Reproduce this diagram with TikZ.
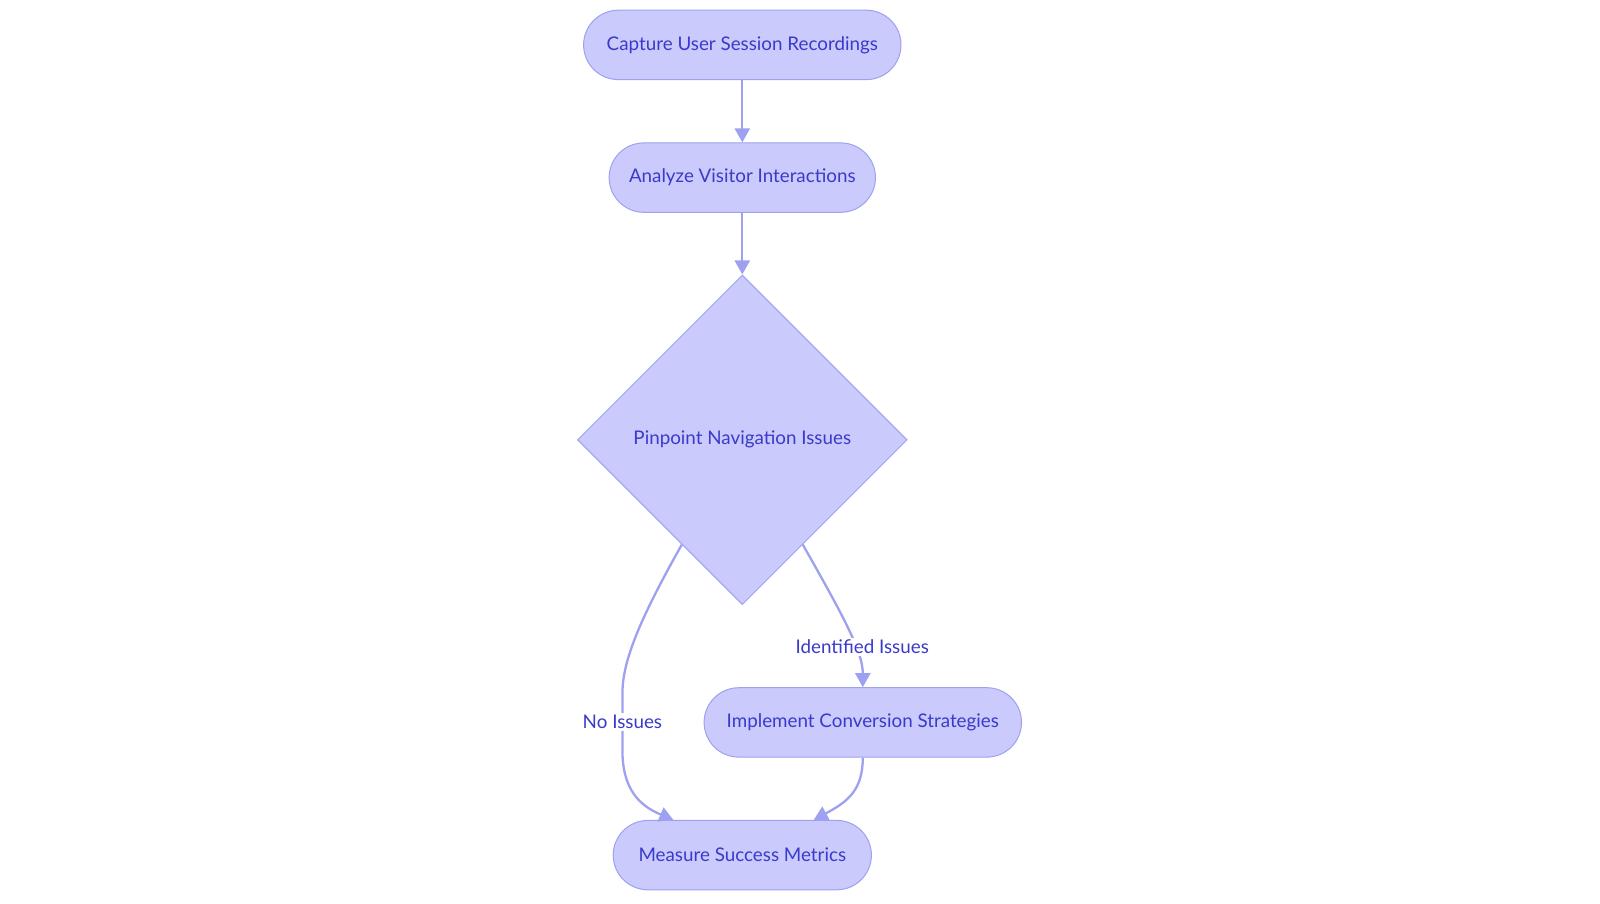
\documentclass[tikz,border=0pt]{standalone}
\usepackage{fontspec}
\setmainfont{Lato}
\usetikzlibrary{positioning,shapes.geometric,arrows.meta}
\definecolor{boxfill}{RGB}{202,202,252}
\definecolor{boxline}{RGB}{158,160,240}
\definecolor{boxtext}{RGB}{58,58,204}

\begin{document}
\begin{tikzpicture}[x=1pt,y=-1pt,on grid,node distance=132.7pt,
  font=\fontsize{18.8}{22}\selectfont,
  pill/.style={draw=boxline,fill=boxfill,text=boxtext,line width=1pt,
    rounded corners=34.7pt,minimum height=69.4pt,inner sep=0pt},
  decision/.style={diamond,aspect=1,draw=boxline,fill=boxfill,text=boxtext,
    line width=1pt,minimum width=329.6pt,minimum height=329.6pt,inner sep=0pt},
  link/.style={draw=boxline,line width=2.3pt,-{Triangle[length=14pt,width=15pt]}},
  lbl/.style={fill=white,text=boxtext,inner sep=2pt}]
  \useasboundingbox (0,0) rectangle (1600,903);
  \node[pill,minimum width=317.4pt] (capture) at (742.3,44.9) {Capture User Session Recordings};
  \node[pill,minimum width=266.3pt] (analyze) [below = of capture] {Analyze Visitor Interactions};
  \node[decision] (pinpoint) [below = 262.2pt of analyze] {Pinpoint Navigation Issues};
  \node[pill,minimum width=317.4pt] (implement) [below right = 282.6pt and 120.5pt of pinpoint] {Implement Conversion Strategies};
  \node[pill,minimum width=258.2pt] (measure) [below = 415.3pt of pinpoint] {Measure Success Metrics};
  \path[link] (capture) -- (analyze);
  \path[link] (analyze) -- (pinpoint);
  \path[link] (pinpoint.300) .. controls (847,622.4) and (862.8,653.1)
    .. node[lbl,pos=0.62,xshift=7pt] {Identified Issues} (implement.north);
  \path[link] (pinpoint.240) .. controls (636.7,624.5) and (622.4,663.3) .. (622.4,693.9)
    -- node[lbl] {No Issues} (622.4,750)
    .. controls (622.4,790.8) and (640.8,806.1) .. ([xshift=-68.9pt]measure.north);
  \path[link] (implement.south) .. controls (862.8,790.8) and (847,802)
    .. ([xshift=71.4pt]measure.north);
\end{tikzpicture}
\end{document}
